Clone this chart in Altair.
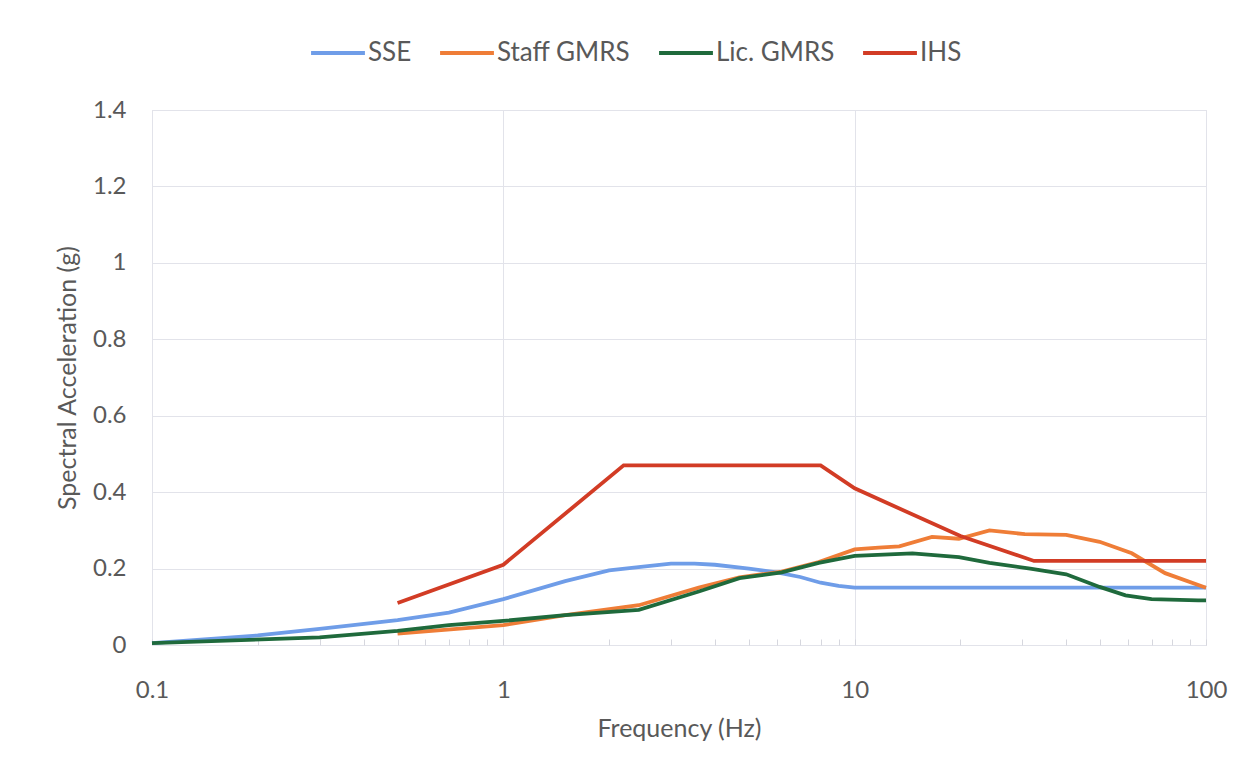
import altair as alt
import pandas as pd

# --- data ---
sse_f = [0.1, 0.2, 0.3, 0.5, 0.7, 1.0, 1.5, 2.0, 2.5, 3.0, 3.5, 4.0, 5.0, 6.0, 7.0, 8.0, 9.0, 10.0, 100.0]
sse_v = [0.005, 0.025, 0.042, 0.065, 0.085, 0.12, 0.167, 0.195, 0.205, 0.213, 0.213, 0.21, 0.2, 0.19, 0.178, 0.163, 0.155, 0.15, 0.15]

staff_f = [0.5, 1.0, 1.5, 2.43, 3.6, 4.7, 6.2, 7.9, 10.0, 11.7, 13.4, 16.6, 19.8, 24.2, 30.5, 40.0, 49.8, 61.5, 76.5, 100.0]
staff_v = [0.03, 0.052, 0.078, 0.104, 0.15, 0.177, 0.192, 0.217, 0.25, 0.255, 0.258, 0.283, 0.278, 0.30, 0.29, 0.288, 0.27, 0.24, 0.188, 0.15]

lic_f = [0.1, 0.3, 0.5, 0.7, 1.0, 1.5, 2.43, 3.6, 4.7, 6.2, 7.9, 10.0, 14.6, 19.8, 24.2, 31.6, 40.0, 49.8, 59.0, 70.0, 95.0, 100.0]
lic_v = [0.005, 0.02, 0.037, 0.052, 0.063, 0.078, 0.092, 0.14, 0.175, 0.19, 0.215, 0.233, 0.24, 0.23, 0.215, 0.2, 0.185, 0.152, 0.13, 0.12, 0.117, 0.117]

ihs_f = [0.5, 1.0, 2.2, 8.0, 10.0, 20.0, 32.4, 100.0]
ihs_v = [0.11, 0.21, 0.47, 0.47, 0.41, 0.285, 0.22, 0.22]

series_names = ["SSE", "Staff GMRS", "Lic. GMRS", "IHS"]
series_colors = ["#6f9de8", "#ef7d37", "#1f6a3c", "#d23c25"]

x_ticks = [m * d for d in [0.1, 1, 10] for m in range(1, 10)] + [100]
y_ticks = [0, 0.2, 0.4, 0.6, 0.8, 1.0, 1.2, 1.4]

rows = []
for name, fs, vs in zip(series_names, [sse_f, staff_f, lic_f, ihs_f], [sse_v, staff_v, lic_v, ihs_v]):
    for i, (f, v) in enumerate(zip(fs, vs)):
        rows.append({"series": name, "freq": f, "sa": v, "i": i})
df = pd.DataFrame(rows)

FONT = "Lato"
GRAY = "#595959"
major_test = "abs(log(datum.value)/LN10 - round(log(datum.value)/LN10)) < 1e-6"

chart = alt.Chart(df).mark_line(strokeWidth=3.8).encode(
    x=alt.X(
        "freq:Q",
        title="Frequency (Hz)",
        scale=alt.Scale(type="log", domain=[0.1, 100], nice=False),
        axis=alt.Axis(
            values=x_ticks,
            labelExpr=f"({major_test}) ? format(datum.value, '~g') : ''",
            labelFlush=False,
            labelOverlap=False,
            gridOpacity={"condition": {"test": major_test, "value": 1}, "value": 0},
            gridColor="#e2e3ea",
            domain=False,
            tickColor="#d6d7de",
            tickSize=6,
            offset=-6,
            labelPadding=33,
            labelFontSize=24,
            labelColor=GRAY,
            labelFont=FONT,
            titleFontSize=25,
            titleFont=FONT,
            titleColor=GRAY,
            titleFontWeight="normal",
            titlePadding=14,
        ),
    ),
    y=alt.Y(
        "sa:Q",
        title="Spectral Acceleration (g)",
        scale=alt.Scale(domain=[0, 1.4], nice=False),
        axis=alt.Axis(
            values=y_ticks,
            format="~g",
            gridColor="#e2e3ea",
            domain=False,
            ticks=False,
            labelPadding=26,
            labelFontSize=24,
            labelColor=GRAY,
            labelFont=FONT,
            titleFontSize=25,
            titleFont=FONT,
            titleColor=GRAY,
            titleFontWeight="normal",
            titlePadding=12,
        ),
    ),
    color=alt.Color(
        "series:N",
        scale=alt.Scale(domain=series_names, range=series_colors),
        legend=alt.Legend(
            title=None,
            orient="none",
            direction="horizontal",
            legendX=157,
            legendY=-86,
            symbolType="stroke",
            symbolSize=2900,
            symbolStrokeWidth=4,
            labelFontSize=26,
            labelFont=FONT,
            labelColor=GRAY,
            columnPadding=20,
            labelOffset=1,
        ),
    ),
    order="i:Q",
).properties(
    width=1054,
    height=535,
    padding={"left": 47, "top": 16, "right": 10, "bottom": 5},
).configure_view(stroke=None).configure(background="white")

chart.save("out.html", embed_options={"renderer": "svg", "actions": False})
